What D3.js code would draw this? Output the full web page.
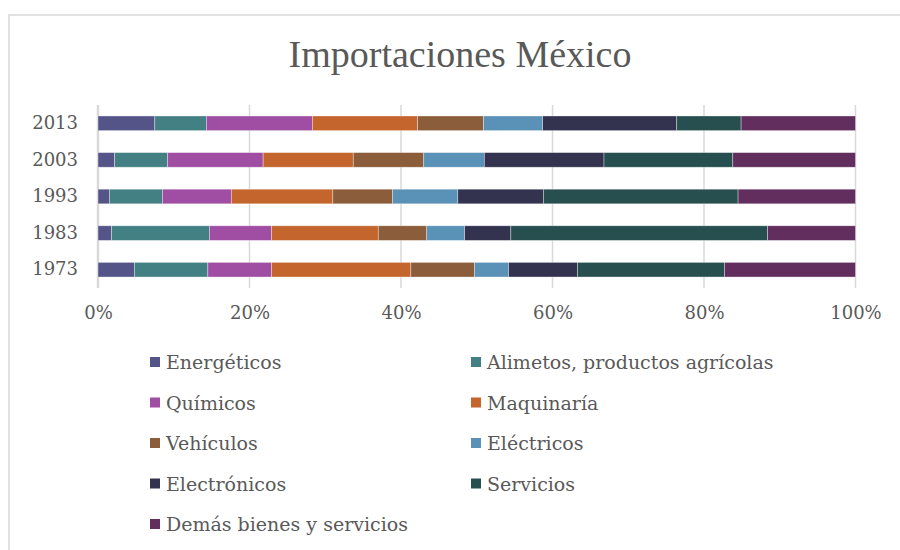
<!DOCTYPE html>
<html>
<head>
<meta charset="utf-8">
<script src="https://cdn.jsdelivr.net/npm/d3@7"></script>
<style>
  body { margin: 0; background: #fff; }
  svg text { fill: #595959; }
</style>
</head>
<body>
<svg id="chart"></svg>
<script>
var years = ["2013", "2003", "1993", "1983", "1973"];
var categories = ["Energéticos", "Alimetos, productos agrícolas", "Químicos", "Maquinaría",
  "Vehículos", "Eléctricos", "Electrónicos", "Servicios", "Demás bienes y servicios"];
var colors = ["#545489", "#438083", "#a04ea3", "#c4652d", "#8b5d3b", "#5a91b6", "#33334f", "#274f50", "#622e5e"];

// shares (%) per year, same order as categories
var v2013 = [7.5, 6.8, 14.0, 13.9, 8.7, 7.8, 17.7, 8.5, 15.1];
var v2003 = [2.2, 7.0, 12.6, 11.9, 9.3, 8.0, 15.8, 17.0, 16.2];
var v1993 = [1.5, 7.0, 9.1, 13.4, 7.9, 8.6, 11.3, 25.7, 15.5];
var v1983 = [1.8, 12.9, 8.2, 14.1, 6.4, 5.0, 6.1, 33.9, 11.6];
var v1973 = [4.8, 9.7, 8.4, 18.4, 8.4, 4.5, 9.1, 19.4, 17.3];
var xTicks = [0, 20, 40, 60, 80, 100];

var serif = "'DejaVu Serif', serif";

var w = 900, h = 550;
var svg = d3.select("#chart").attr("width", w).attr("height", h);

// chart frame
svg.append("rect")
  .attr("x", 9).attr("y", 15)
  .attr("width", w).attr("height", h)
  .attr("fill", "none").attr("stroke", "#d9d9d9").attr("stroke-width", 1.5);

svg.append("text")
  .attr("x", 460).attr("y", 67)
  .attr("text-anchor", "middle")
  .style("font-family", "Georgia, 'Liberation Serif', serif")
  .style("font-size", "38px")
  .text("Importaciones México");

var rows = [v2013, v2003, v1993, v1983, v1973].map(function(vals, i) {
  var r = { year: years[i] };
  var tot = d3.sum(vals);
  categories.forEach(function(c, j) { r[c] = vals[j] / tot * 100; });
  return r;
});

var stack = d3.stack().keys(categories);
var series = stack(rows);

var x = d3.scaleLinear().domain([0, 100]).range([98, 855.5]);
var y = d3.scaleBand().domain(years).range([105, 288]).paddingInner(0.6).paddingOuter(0.3);

// gridlines
svg.append("g")
  .selectAll("line")
  .data(xTicks)
  .enter()
  .append("line")
  .attr("x1", function(d) { return x(d); })
  .attr("x2", function(d) { return x(d); })
  .attr("y1", 105).attr("y2", 288)
  .attr("stroke", "#d9d9d9")
  .attr("stroke-width", function(d) { return d === 0 ? 2.5 : 1.5; });

svg.append("g")
  .selectAll("g")
  .data(series)
  .enter()
  .append("g")
  .attr("fill", function(d, i) { return colors[i]; })
  .selectAll("rect")
  .data(function(d) { return d; })
  .enter()
  .append("rect")
  .attr("x", function(d) { return x(d[0]); })
  .attr("y", function(d) { return y(d.data.year); })
  .attr("width", function(d) { return x(d[1]) - x(d[0]); })
  .attr("height", y.bandwidth())
  .attr("stroke", "#fff")
  .attr("stroke-opacity", 0.5)
  .attr("stroke-width", 0.7);

// x axis labels
var xAxis = svg.append("g")
  .attr("transform", "translate(0,288)")
  .call(d3.axisBottom(x).tickValues(xTicks).tickSize(0).tickPadding(18)
    .tickFormat(function(d) { return d + "%"; }));
xAxis.select(".domain").remove();
xAxis.selectAll("text").style("font-size", "18px").style("fill", "#595959")
  .style("font-family", serif);

// y axis labels
var yAxis = svg.append("g")
  .attr("transform", "translate(98,0)")
  .call(d3.axisLeft(y).tickSize(0).tickPadding(20));
yAxis.select(".domain").remove();
yAxis.selectAll("text").style("font-size", "18px").style("fill", "#595959")
  .style("font-family", serif);

// legend
var legend = svg.append("g")
  .selectAll("g")
  .data(categories)
  .enter()
  .append("g")
  .attr("transform", function(d, i) {
    return "translate(" + (i % 2 === 0 ? 150 : 471) + "," + (362 + Math.floor(i / 2) * 40.5) + ")";
  });
legend.append("rect")
  .attr("x", 0).attr("y", -5)
  .attr("width", 10).attr("height", 10)
  .attr("fill", function(d, i) { return colors[i]; });
legend.append("text")
  .attr("x", 16).attr("y", 7)
  .style("font-size", "19px")
  .style("font-family", serif)
  .text(function(d) { return d; });
</script>
</body>
</html>
